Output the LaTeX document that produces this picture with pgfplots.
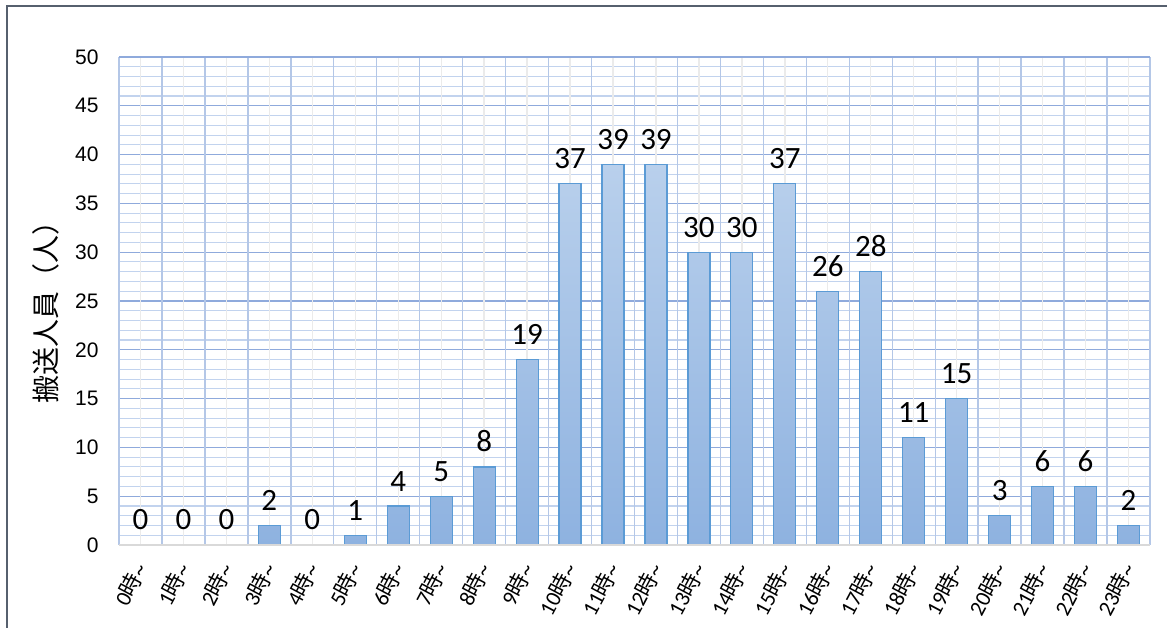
\documentclass[border=0pt]{standalone}
\usepackage{pgfplots}
\pgfplotsset{compat=1.18}
\usepackage{fontspec}
\setmainfont{Liberation Sans}
\newfontfamily\jp{Noto Sans CJK JP}
\newfontfamily\calib{Carlito}
\definecolor{majgrid}{HTML}{8FAADC}
\definecolor{mingrid}{HTML}{C2D3EE}
\definecolor{vgrid}{HTML}{B4C7E7}
\definecolor{cgrid}{HTML}{EBEBEB}
\definecolor{bartop}{HTML}{B9D0EC}
\definecolor{barbot}{HTML}{8EB2E0}
\definecolor{baredge}{HTML}{5B9BD5}
\definecolor{frame}{HTML}{56606E}
\newcommand{\tl}[1]{{\calib #1}{\jp 時}{\calib\textasciitilde}}
\begin{document}
\begin{tikzpicture}[x=1bp,y=1bp]
\path[use as bounding box] (0,0) rectangle (1167,628);
\draw[frame, line width=2bp] (7,-10) -- (7,622) -- (1180,622);
\begin{axis}[
  at={(119bp,83bp)}, anchor=south west,
  scale only axis, width=1031bp, height=488bp,
  xmin=-0.5, xmax=23.5, ymin=0, ymax=50,
  /pgf/number format/assume math mode=true,
  axis line style={draw=none},
  major tick length=0, minor tick length=0,
  ytick={0,5,...,50}, minor y tick num=4,
  ymajorgrids, yminorgrids,
  major grid style={majgrid, line width=1.3bp},
  minor grid style={mingrid, line width=1.1bp},
  xtick={0,...,23},
  xticklabels={\tl{0},\tl{1},\tl{2},\tl{3},\tl{4},\tl{5},\tl{6},\tl{7},\tl{8},\tl{9},\tl{10},\tl{11},\tl{12},\tl{13},\tl{14},\tl{15},\tl{16},\tl{17},\tl{18},\tl{19},\tl{20},\tl{21},\tl{22},\tl{23}},
  xticklabel style={font=\fontsize{22bp}{24bp}\selectfont, yshift=-19bp, xshift=1bp, rotate=62, anchor=east, inner sep=1bp},
  yticklabel style={font=\fontsize{21bp}{23bp}\selectfont, xshift=-17bp},
  ylabel={\jp 搬送人員（人）},
  every axis y label/.style={at={(axis description cs:-0.0708,0.49)}, rotate=90, anchor=center, font=\fontsize{28bp}{30bp}\selectfont},
  clip=false,
]
\pgfplotsinvokeforeach{0,...,23}{\draw[cgrid, line width=1.3bp] (axis cs:#1,0) -- (axis cs:#1,50);}
\pgfplotsinvokeforeach{-0.5,0.5,...,23.5}{\draw[vgrid, line width=1.4bp] (axis cs:#1,0) -- (axis cs:#1,50);}
\draw[majgrid, line width=1.4bp] (axis cs:-0.5,50) -- (axis cs:23.5,50);
\addplot[ybar, bar width=22bp, draw=baredge, line width=1.2bp, top color=bartop, bottom color=barbot,
  nodes near coords, every node near coord/.append style={font=\calib\fontsize{31bp}{33bp}\selectfont, text=black, anchor=south, yshift=11bp}]
coordinates {(0,0) (1,0) (2,0) (3,2) (4,0) (5,1) (6,4) (7,5) (8,8) (9,19) (10,37) (11,39) (12,39) (13,30) (14,30) (15,37) (16,26) (17,28) (18,11) (19,15) (20,3) (21,6) (22,6) (23,2)};
\draw[gray!30, line width=2bp] (axis cs:-0.5,0) -- (axis cs:23.5,0);
\end{axis}
\end{tikzpicture}
\end{document}
